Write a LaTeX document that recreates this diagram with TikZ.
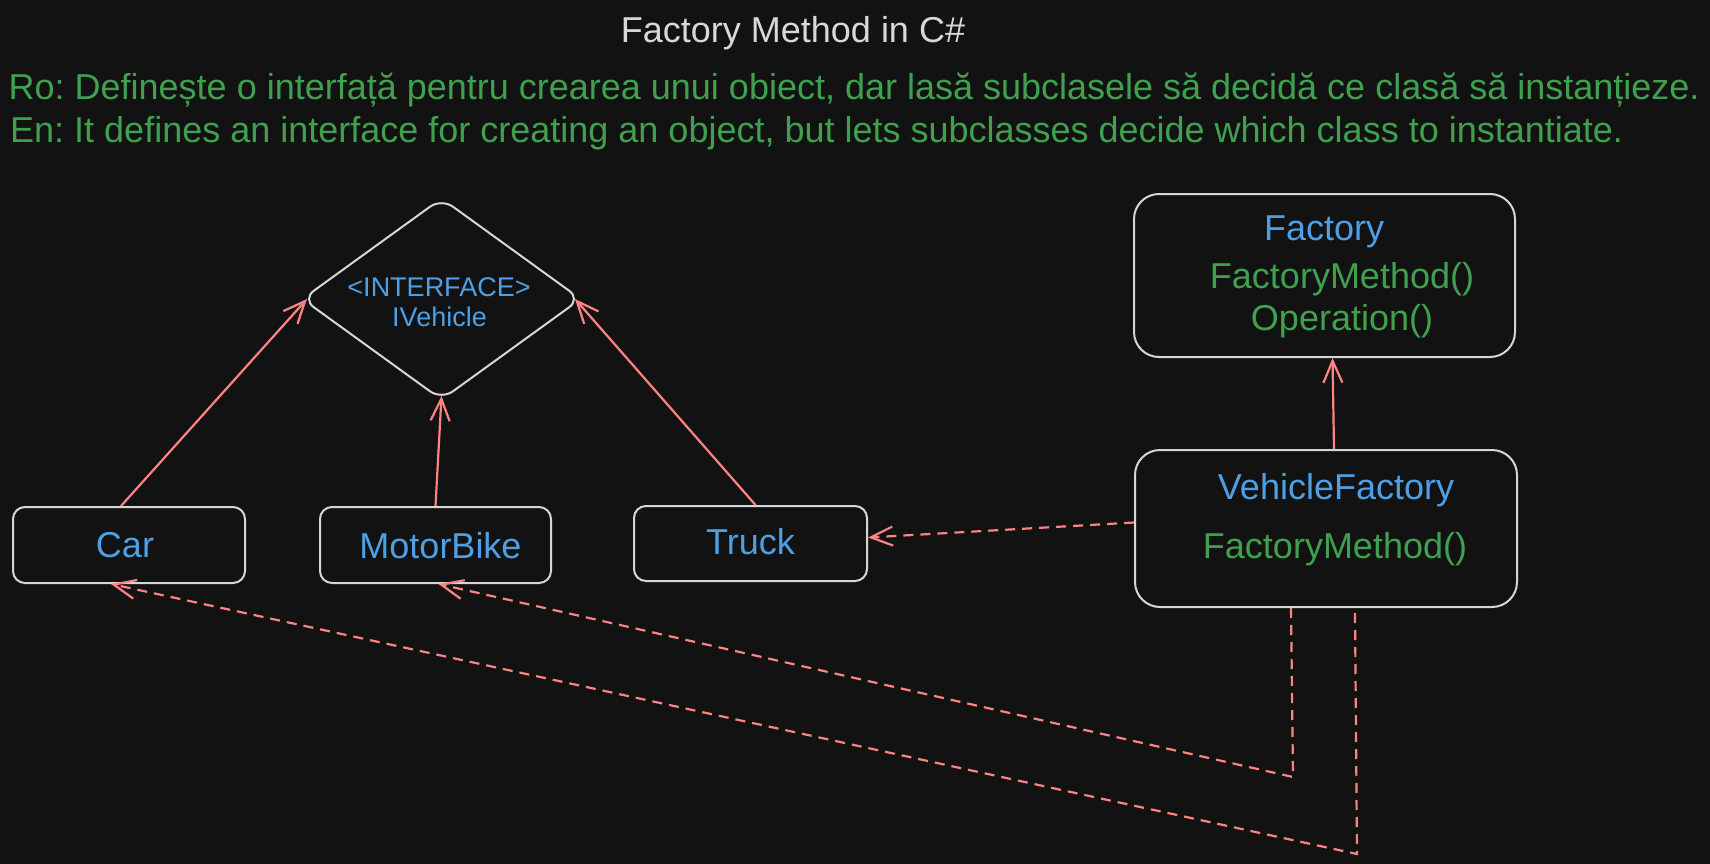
\documentclass[tikz,border=0pt]{standalone}
\usepackage{fontspec}
\setmainfont{Liberation Sans}
\usetikzlibrary{shapes.geometric,arrows.meta}
\definecolor{bgc}{HTML}{121212}
\definecolor{strokec}{HTML}{D6D6D6}
\definecolor{titlec}{HTML}{D8D8D8}
\definecolor{greenc}{HTML}{3FA14F}
\definecolor{bluec}{HTML}{4DA0E6}
\definecolor{redc}{HTML}{FF8383}
\frenchspacing
\begin{document}
\begin{tikzpicture}[x=1pt,y=-1pt,
  big/.style={font=\fontsize{36pt}{43pt}\selectfont},
  mid/.style={font=\fontsize{27pt}{32pt}\selectfont},
  box/.style={draw=strokec, line width=2pt, rounded corners=#1, inner sep=0pt},
  box/.default=12pt,
  rel/.style={draw=redc, line width=2.2pt, -{Straight Barb[length=22pt,width=19pt]}},
  dep/.style={rel, dash pattern=on 10pt off 7pt},
]
\fill[bgc] (0,0) rectangle (1710,864);
\useasboundingbox (0,0) rectangle (1710,864);

% texts at top
\node[big, text=titlec, anchor=base] (title) at (793,42.7) {Factory Method in C\#};
\node[big, text=greenc, anchor=base west, inner sep=0pt] (ro) at (8.5,99.3) {Ro: Definește o interfață pentru crearea unui obiect, dar lasă subclasele să decidă ce clasă să instanțieze.};
\node[big, text=greenc, anchor=base west, inner sep=0pt] (en) at (10,142.7) {En: It defines an interface for creating an object, but lets subclasses decide which class to instantiate.};

% interface diamond
\node[diamond, draw=strokec, line width=2pt, minimum width=279pt, minimum height=202pt, inner sep=0pt, rounded corners=14pt] (iv) at (441.5,299) {};
\node[mid, text=bluec, anchor=base] (ivt1) at (439,296) {<INTERFACE>};
\node[mid, text=bluec, anchor=base] (ivt2) at (439.5,326.7) {IVehicle};

% concrete products
\node[box, minimum width=232pt, minimum height=76pt] (car) at (129,545) {};
\node[big, text=bluec, anchor=base] (cart) at (125,557) {Car};
\node[box, minimum width=231pt, minimum height=76pt] (mb) at (435.5,545) {};
\node[big, text=bluec, anchor=base] (mbt) at (440.5,558) {MotorBike};
\node[box, minimum width=233pt, minimum height=75pt] (truck) at (750.5,543.5) {};
\node[big, text=bluec, anchor=base] (truckt) at (750.5,554) {Truck};

% factories
\node[box=25pt, minimum width=381pt, minimum height=163pt] (fac) at (1324.5,275.5) {};
\node[big, text=bluec, anchor=base] (fact1) at (1324,240) {Factory};
\node[big, text=greenc, anchor=base] (fact2) at (1342,288) {FactoryMethod()};
\node[big, text=greenc, anchor=base] (fact3) at (1342,330.7) {Operation()};

\node[box=25pt, minimum width=382pt, minimum height=157pt] (vf) at (1326,528.5) {};
\node[big, text=bluec, anchor=base] (vft1) at (1336,499) {VehicleFactory};
\node[big, text=greenc, anchor=base] (vft2) at (1335,558) {FactoryMethod()};

% inheritance arrows
\draw[rel] ([xshift=-8pt]car.north) -- ([xshift=6pt]iv.west);
\draw[rel] (mb.north) -- ([yshift=5pt]iv.south);
\draw[rel] ([xshift=5pt]truck.north) -- ([xshift=-7pt]iv.east);
\draw[rel] ([xshift=8pt]vf.north) -- ([xshift=8pt]fac.south);

% creation (dashed) arrows
\coordinate (k1) at (1293,777);
\coordinate (k2) at (1357,854);
\draw[dep] ([yshift=6pt]vf.west) -- ([yshift=6pt]truck.east);
\draw[dep] ([xshift=-35pt]vf.south) -- (k1) -- ([xshift=3pt]mb.south);
\draw[dep] ([xshift=29pt,yshift=-5pt]vf.south) -- (k2) -- ([xshift=-18pt]car.south);
\end{tikzpicture}
\end{document}
